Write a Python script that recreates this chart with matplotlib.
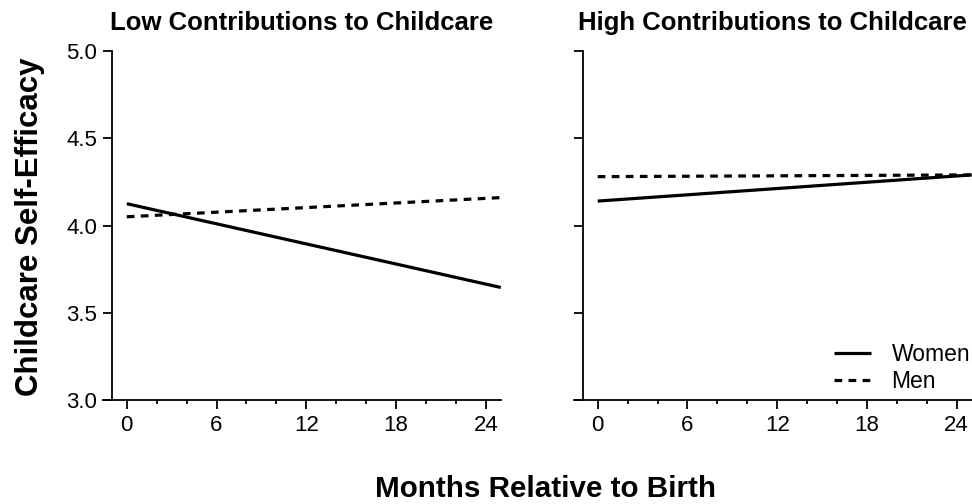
import matplotlib.pyplot as plt
from matplotlib.ticker import MultipleLocator

plt.rcParams["font.family"] = ["Liberation Sans", "DejaVu Sans"]

# months relative to birth (line endpoints)
months = [0, 25]

# childcare self-efficacy
low_women = [4.125, 3.645]
low_men = [4.05, 4.16]
high_women = [4.14, 4.29]
high_men = [4.28, 4.29]

panel_titles = ["Low Contributions to Childcare", "High Contributions to Childcare"]
x_ticks = [0, 6, 12, 18, 24]
y_ticks = [3.0, 3.5, 4.0, 4.5, 5.0]

fig = plt.figure(figsize=(9.72, 5.04), dpi=100)
ax_low = fig.add_axes([0.1058, 0.2063, 0.4094, 0.6925])
ax_high = fig.add_axes([0.5903, 0.2063, 0.4094, 0.6925])

dash = (0, (2.4, 2.0))
for ax, women, men, title in [
    (ax_low, low_women, low_men, panel_titles[0]),
    (ax_high, high_women, high_men, panel_titles[1]),
]:
    ax.plot(months, women, color="black", lw=2.3, solid_capstyle="butt",
            label="Women", clip_on=False)
    ax.plot(months, men, color="black", lw=2.3, linestyle=dash,
            label="Men", clip_on=False)

    ax.set_xlim(-1.6, 25)
    ax.set_ylim(3.0, 5.0)
    ax.set_xticks(x_ticks)
    ax.xaxis.set_minor_locator(MultipleLocator(2))
    ax.set_yticks(y_ticks)
    ax.set_yticklabels([f"{v:.1f}" for v in y_ticks])

    ax.spines["top"].set_visible(False)
    ax.spines["right"].set_visible(False)
    ax.spines["left"].set_position(("data", -1))
    for s in ("left", "bottom"):
        ax.spines[s].set_linewidth(1.3)

    ax.tick_params(axis="both", which="major", length=6.5, width=1.3,
                   labelsize=16, pad=4)
    ax.tick_params(axis="x", which="minor", length=3.2, width=1.3)
    ax.set_title(title, fontsize=18.5, fontweight="bold", pad=15)

ax_high.set_yticklabels([])

ax_high.legend(loc="lower right", bbox_to_anchor=(1.048, -0.04), frameon=False,
               fontsize=16.5, handlelength=1.6, handletextpad=0.9,
               labelspacing=0.2)

fig.text(0.031, 0.55, "Childcare Self-Efficacy", rotation=90, ha="center",
         va="center", fontsize=22.5, fontweight="bold")
fig.text(0.561, 0.03, "Months Relative to Birth", ha="center", va="center",
         fontsize=21.3, fontweight="bold")

fig.savefig("out.png", dpi=100)
